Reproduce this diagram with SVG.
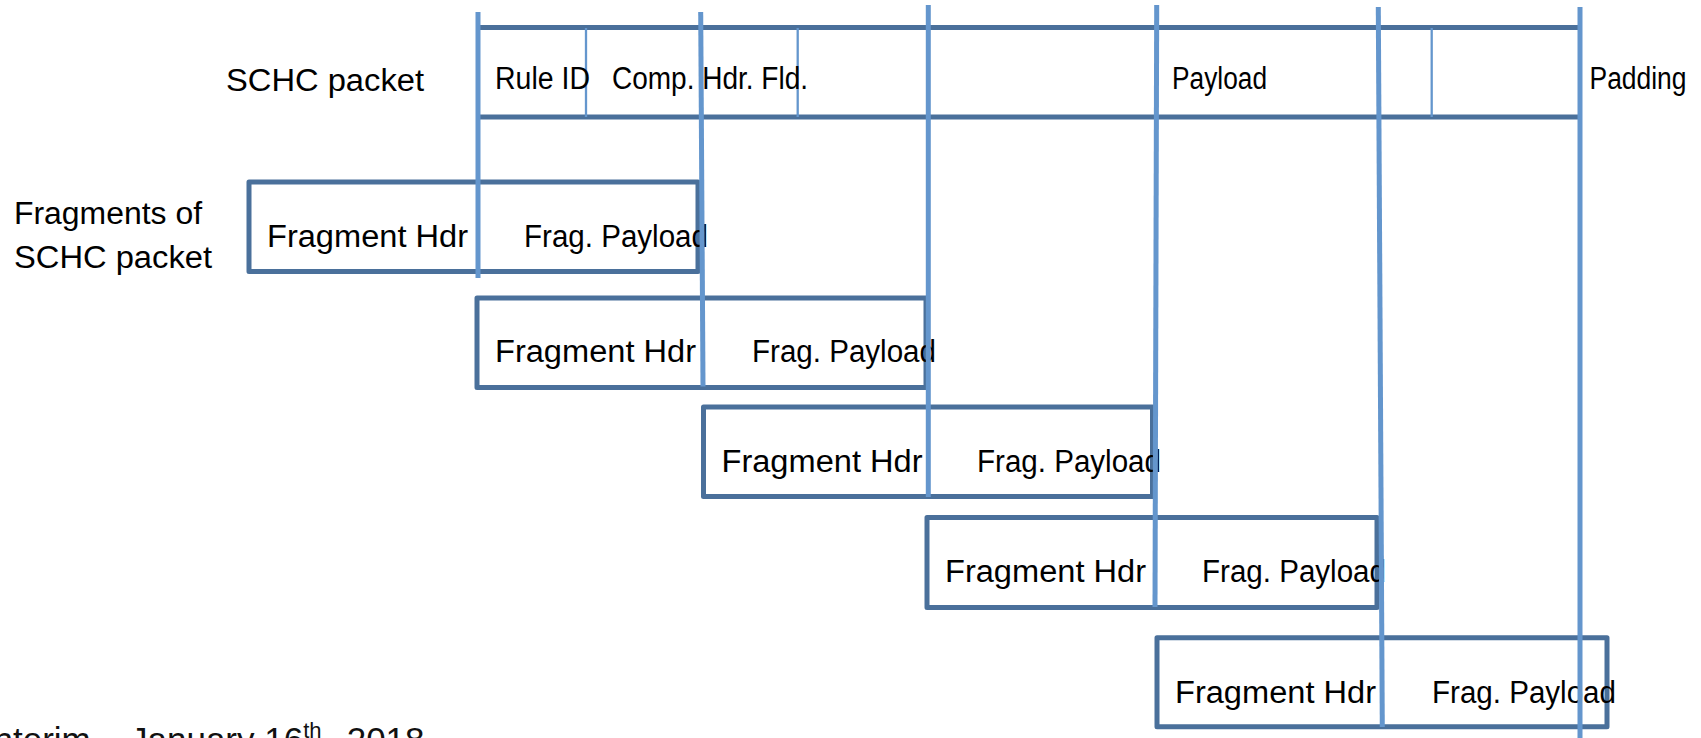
<svg xmlns="http://www.w3.org/2000/svg" width="1701" height="738" viewBox="0 0 1701 738">
  <style>
    .lbl { font-family: "Liberation Sans", Arial, sans-serif; font-size: 31px; fill: #000; }
    .box { fill: none; stroke: #4A709B; stroke-width: 5; stroke-linejoin: round; }
    .hline { stroke: #4A709B; stroke-width: 5; fill: none; }
    .guide { stroke: #6496CD; stroke-width: 5; fill: none; }
    .thin { stroke: #6496CD; stroke-width: 2.3; fill: none; }
    .foot { font-family: "Liberation Sans", Arial, sans-serif; font-size: 35px; fill: #111; }
  </style>
  <rect width="1701" height="738" fill="#fff"/>

  <!-- Side labels -->
  <g id="label-schc">
    <text class="lbl" x="226" y="91" font-size="32" textLength="198" lengthAdjust="spacingAndGlyphs">SCHC packet</text>
  </g>
  <g id="label-fragments">
    <text class="lbl" x="14" y="224" textLength="188" lengthAdjust="spacingAndGlyphs">Fragments of</text>
    <text class="lbl" x="14" y="268" textLength="198" lengthAdjust="spacingAndGlyphs">SCHC packet</text>
  </g>

  <!-- SCHC packet row -->
  <g id="schc-packet">
    <line class="hline" x1="478" y1="27.5" x2="1580" y2="27.5"/>
    <line class="hline" x1="478" y1="117" x2="1580" y2="117"/>
    <line class="thin" x1="586" y1="28" x2="586" y2="117"/>
    <line class="thin" x1="797.7" y1="28" x2="797.7" y2="117"/>
    <line class="thin" x1="1431.7" y1="28" x2="1431.7" y2="117"/>
    <text class="lbl" x="495" y="88.5" textLength="95" lengthAdjust="spacingAndGlyphs">Rule ID</text>
    <text class="lbl" x="612" y="88.5" textLength="196" lengthAdjust="spacingAndGlyphs">Comp. Hdr. Fld.</text>
    <text class="lbl" x="1172" y="88.5" textLength="95" lengthAdjust="spacingAndGlyphs">Payload</text>
    <text class="lbl" x="1589.5" y="88.5" textLength="97" lengthAdjust="spacingAndGlyphs">Padding</text>
  </g>

  <!-- Fragments -->
  <g id="frag-1">
    <rect class="box" x="249" y="182" width="449" height="89.5"/>
    <text class="lbl" x="267" y="247" textLength="201" lengthAdjust="spacingAndGlyphs">Fragment Hdr</text>
    <text class="lbl" x="524" y="247" textLength="184" lengthAdjust="spacingAndGlyphs">Frag. Payload</text>
  </g>
  <g id="frag-2">
    <rect class="box" x="477" y="298" width="449" height="89.5"/>
    <text class="lbl" x="495" y="362" textLength="201" lengthAdjust="spacingAndGlyphs">Fragment Hdr</text>
    <text class="lbl" x="752" y="362" textLength="184" lengthAdjust="spacingAndGlyphs">Frag. Payload</text>
  </g>
  <g id="frag-3">
    <rect class="box" x="703.5" y="407" width="449" height="89.5"/>
    <text class="lbl" x="721.5" y="472" textLength="201" lengthAdjust="spacingAndGlyphs">Fragment Hdr</text>
    <text class="lbl" x="977" y="472" textLength="184" lengthAdjust="spacingAndGlyphs">Frag. Payload</text>
  </g>
  <g id="frag-4">
    <rect class="box" x="927" y="517.5" width="450" height="90"/>
    <text class="lbl" x="945" y="582" textLength="201" lengthAdjust="spacingAndGlyphs">Fragment Hdr</text>
    <text class="lbl" x="1202" y="582" textLength="184" lengthAdjust="spacingAndGlyphs">Frag. Payload</text>
  </g>
  <g id="frag-5">
    <rect class="box" x="1157" y="637.7" width="450" height="89"/>
    <text class="lbl" x="1175" y="702.5" textLength="201" lengthAdjust="spacingAndGlyphs">Fragment Hdr</text>
    <text class="lbl" x="1432" y="702.5" textLength="184" lengthAdjust="spacingAndGlyphs">Frag. Payload</text>
  </g>

  <!-- Alignment connectors -->
  <g id="connectors">
    <line class="guide" x1="478" y1="12" x2="478" y2="278"/>
    <line class="guide" x1="700.7" y1="12" x2="703" y2="386.5"/>
    <line class="guide" x1="928.3" y1="5" x2="928.3" y2="497"/>
    <line class="guide" x1="1156.7" y1="5" x2="1155" y2="607"/>
    <line class="guide" x1="1378.3" y1="7" x2="1382.3" y2="727"/>
    <line class="guide" x1="1580" y1="7" x2="1580" y2="738"/>
  </g>

  <!-- Footer (cut off at the bottom edge) -->
  <g id="footer">
    <text class="foot" y="752"><tspan x="-6.5">nterim,</tspan><tspan x="130">January 16</tspan><tspan font-size="22" dy="-14">th</tspan><tspan dy="14">, </tspan><tspan x="346.7">2018</tspan></text>
  </g>
</svg>
